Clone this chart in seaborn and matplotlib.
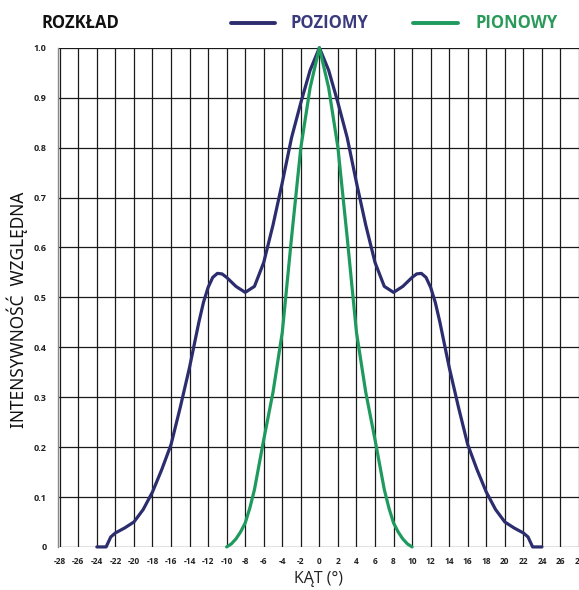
import matplotlib
matplotlib.use("Agg")
import matplotlib.pyplot as plt
import seaborn as sns
import pandas as pd
from matplotlib.lines import Line2D

# Data
poz_x = [-24, -23, -22.5, -22, -21, -20, -19, -18, -17, -16, -15, -14, -13, -12.5, -12, -11.5, -11, -10.5, -10,
         -9, -8, -7, -6, -5, -4, -3, -2, -1, 0,
         1, 2, 3, 4, 5, 6, 7, 8, 9, 10, 10.5, 11, 11.5, 12, 12.5, 13, 14, 15, 16, 17, 18, 19, 20, 21, 22, 22.5, 23, 24]
poz_y = [0.0, 0.0, 0.02, 0.028, 0.038, 0.05, 0.075, 0.11, 0.155, 0.205, 0.28, 0.36, 0.45, 0.49, 0.52, 0.54, 0.548, 0.547, 0.54,
         0.522, 0.51, 0.522, 0.57, 0.645, 0.73, 0.82, 0.89, 0.955, 1.0,
         0.955, 0.89, 0.82, 0.73, 0.645, 0.57, 0.522, 0.51, 0.522, 0.54, 0.547, 0.548, 0.54, 0.52, 0.49, 0.45, 0.36, 0.28, 0.205, 0.155, 0.11, 0.075, 0.05, 0.038, 0.028, 0.02, 0.0, 0.0]

pio_x = [-10, -9.5, -9, -8.5, -8, -7.5, -7, -6, -5, -4, -3, -2, -1, 0,
         1, 2, 3, 4, 5, 6, 7, 7.5, 8, 8.5, 9, 9.5, 10]
pio_y = [0.0, 0.006, 0.016, 0.03, 0.048, 0.078, 0.115, 0.215, 0.31, 0.43, 0.62, 0.8, 0.92, 1.0,
         0.92, 0.8, 0.62, 0.43, 0.31, 0.215, 0.115, 0.078, 0.048, 0.03, 0.016, 0.006, 0.0]

series_names = ["POZIOMY", "PIONOWY"]
x_ticks = list(range(-28, 30, 2))
y_ticks = [0.0, 0.1, 0.2, 0.3, 0.4, 0.5, 0.6, 0.7, 0.8, 0.9, 1.0]
y_tick_labels = ["0", "0.1", "0.2", "0.3", "0.4", "0.5", "0.6", "0.7", "0.8", "0.9", "1.0"]

df = pd.concat([
    pd.DataFrame({"kat": poz_x, "int": poz_y, "seria": series_names[0]}),
    pd.DataFrame({"kat": pio_x, "int": pio_y, "seria": series_names[1]}),
])

navy = "#2c2d6e"
green = "#1f9a5e"
palette = {series_names[0]: navy, series_names[1]: green}

sns.set_style("white")
plt.rcParams["font.family"] = ["Open Sans", "DejaVu Sans"]

fig = plt.figure(figsize=(5.79, 5.90), dpi=100)
ax = fig.add_axes([0.100, 0.073, 0.900, 0.846])

sns.lineplot(data=df, x="kat", y="int", hue="seria", palette=palette, sort=False,
             estimator=None, linewidth=2.3, legend=False, ax=ax)
for ln in ax.lines:
    ln.set_clip_on(False)
    ln.set_zorder(5)
    ln.set_solid_capstyle("round")
    ln.set_solid_joinstyle("round")

ax.set_xlim(-28.2, 27.7)
ax.set_ylim(0, 1.0)
ax.set_xticks(x_ticks)
ax.set_xticklabels([str(t) for t in x_ticks], fontsize=6, fontweight="bold", color="#222222")
ax.set_yticks(y_ticks)
ax.set_yticklabels(y_tick_labels, fontsize=6.5, fontweight="bold", color="#222222")
ax.tick_params(axis="both", length=0, pad=7)
ax.tick_params(axis="y", pad=8)

for t in x_ticks:
    ax.axvline(t, color="#1a1a1a", lw=0.9, zorder=1)
for t in y_ticks:
    ax.axhline(t, color="#1a1a1a", lw=0.9, zorder=1)

for s in ["top", "right", "bottom"]:
    ax.spines[s].set_visible(False)
ax.spines["left"].set_color("#888888")
ax.spines["left"].set_linewidth(1.0)

ax.set_xlabel("KĄT (°)", fontsize=11.5, color="#222222", labelpad=4)
ax.set_ylabel("INTENSYWNOŚĆ  WZGLĘDNA", fontsize=12.5, fontweight="semibold", color="#111111",
              family=["Noto Sans", "DejaVu Sans"])
ax.yaxis.set_label_coords(-0.058, 0.475)

# Header / legend
hy = 0.961
fig.text(0.072, hy, "ROZKŁAD", fontsize=12, fontweight="bold", color="#111111", va="center")
fig.add_artist(Line2D([0.399, 0.475], [hy, hy], color=navy, lw=2.8, transform=fig.transFigure))
fig.text(0.501, hy, "POZIOMY", fontsize=12, fontweight="bold", color="#3a3a7c", va="center")
fig.add_artist(Line2D([0.713, 0.791], [hy, hy], color=green, lw=2.8, transform=fig.transFigure))
fig.text(0.822, hy, "PIONOWY", fontsize=12, fontweight="bold", color="#2a9a5a", va="center")

fig.savefig("out.png", dpi=100)
